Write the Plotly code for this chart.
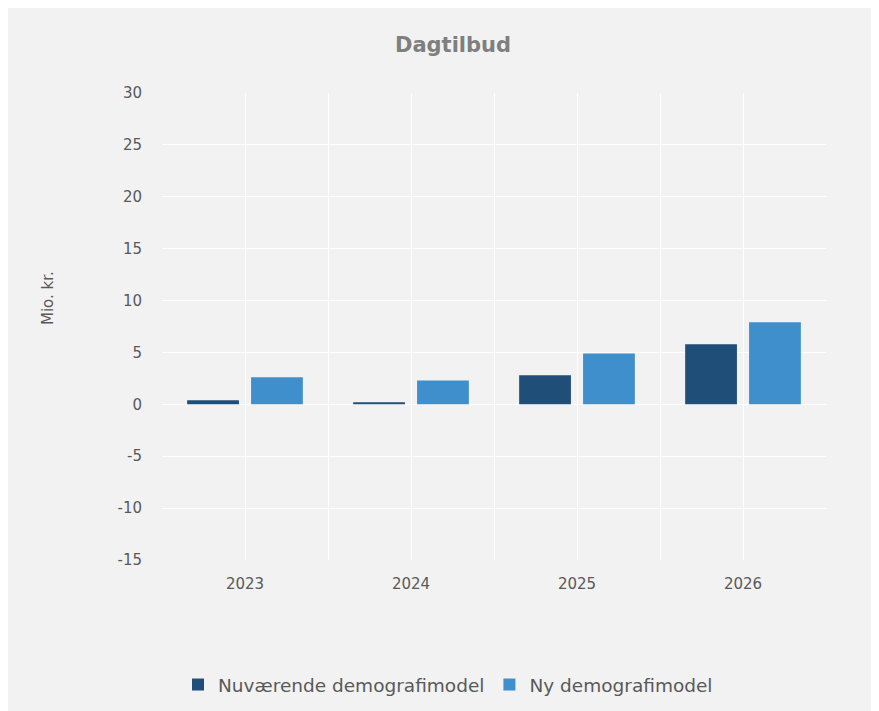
import plotly.graph_objects as go

years = ["2023", "2024", "2025", "2026"]
nuvaerende = [0.4, 0.2, 2.8, 5.8]
ny = [2.6, 2.3, 4.9, 7.9]
series_names = ["Nuværende demografimodel", "Ny demografimodel"]
colors = ["#1F4E79", "#3E8FCB"]
y_tick_vals = [-15, -10, -5, 0, 5, 10, 15, 20, 25, 30]
y_tick_text = ["-15", "-10", "-5", "0", "5", "10", "15", "20", "25", "30"]

W, H = 879, 711
L, R, T, B = 154, 61, 85, 159
pw, ph = W - L - R, H - T - B

fig = go.Figure()
fig.add_trace(go.Bar(x=years, y=nuvaerende, name=series_names[0], marker_color=colors[0], marker_line_width=0))
fig.add_trace(go.Bar(x=years, y=ny, name=series_names[1], marker_color=colors[1], marker_line_width=0))
# helper trace on overlay axis to draw gridlines at category centres
fig.add_trace(go.Scatter(x=years, y=[None] * len(years), xaxis="x2", mode="lines",
                         showlegend=False, hoverinfo="skip"))

font_family = "DejaVu Sans, Liberation Sans, Arial, sans-serif"
bg = "#F2F2F2"
txt = "#595959"

fig.update_layout(
    width=W, height=H,
    margin=dict(l=L, r=R, t=T, b=B),
    paper_bgcolor=bg,
    plot_bgcolor=bg,
    barmode="group",
    bargap=0.23,
    bargroupgap=0.19,
    font=dict(family=font_family, color=txt, size=15),
    title=dict(text="<b>Dagtilbud</b>", x=445 / W, xanchor="center", y=1 - 37 / H, yanchor="middle",
               font=dict(size=21, color="#7F7F7F", family=font_family)),
    xaxis=dict(type="category", categoryorder="array", categoryarray=years, range=[-0.5, 3.5],
               tickson="boundaries", showgrid=True, gridcolor="white", gridwidth=1,
               ticks="", ticklabelstandoff=13, showline=False,
               tickfont=dict(size=15, color=txt)),
    xaxis2=dict(type="category", categoryorder="array", categoryarray=years, range=[-0.5, 3.5],
                overlaying="x", showgrid=True, gridcolor="white", gridwidth=1,
                showticklabels=False, ticks="", showline=False, zeroline=False),
    yaxis=dict(range=[-15, 30], tickvals=y_tick_vals, ticktext=y_tick_text,
               showgrid=True, gridcolor="white", gridwidth=1,
               zeroline=True, zerolinecolor="white", zerolinewidth=1, showline=False,
               ticks="outside", ticklen=16, tickcolor="rgba(0,0,0,0)",
               tickfont=dict(size=15, color=txt)),
    legend=dict(orientation="h", xref="container", yref="container", x=440 / W, xanchor="center",
                y=1 - 677 / H, yanchor="middle", font=dict(size=18.5, color=txt),
                bgcolor="rgba(0,0,0,0)", itemwidth=30, traceorder="normal"),
    annotations=[dict(text="Mio. kr.", xref="paper", yref="paper", x=(40 - L) / pw, y=(T + ph - 290) / ph,
                      textangle=-90, showarrow=False, xanchor="center", yanchor="middle",
                      font=dict(size=15, color=txt, family=font_family))],
)

fig.write_html("out.html")
